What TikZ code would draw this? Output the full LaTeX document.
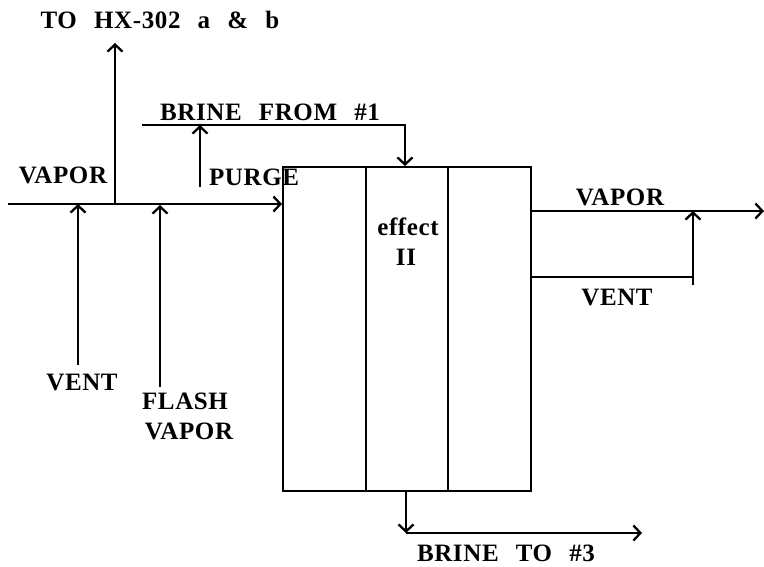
\documentclass[tikz,border=0pt]{standalone}
\usepackage{fontspec}
\setmainfont{Liberation Serif}[LetterSpace=2.5,WordSpace=2.5]
\usetikzlibrary{arrows.meta}
\begin{document}
\begin{tikzpicture}[x=1pt,y=-1pt,
  line/.style={line width=2.3pt},
  arr/.style={line width=2.3pt,-{Straight Barb[length=7pt,width=15pt,line width=2.3pt]}},
  lbl/.style={font=\bfseries\fontsize{25}{28}\selectfont, inner sep=0pt},
]
\useasboundingbox (0,0) rectangle (764,566);
% effect box
\node[draw, line width=2.3pt, minimum width=248pt, minimum height=324pt, inner sep=0pt, anchor=north west] (box) at (282,166) {};
\coordinate (d1t) at (366,166); \coordinate (d1b) at (366,490);
\coordinate (d2t) at (448,166); \coordinate (d2b) at (448,490);
\draw[line] (d1t) -- (d1b);
\draw[line] (d2t) -- (d2b);
\node[lbl] (eff) at (408,227) {effect};
\node[lbl] (two) at (406,257) {II};
% inlet vapor line
\coordinate (in) at (8,204);
\draw[arr] (in) -- (in -| box.west);
% to HX-302
\coordinate (jA) at (115,204);
\coordinate (hx) at (115,43);
\draw[arr] (jA) -- (hx);
\node[lbl] (thx) at (160,20) {TO HX-302 a \& b};
\node[lbl] (vap1) at (63,175) {VAPOR};
% vent
\coordinate (ventS) at (78,365); \coordinate (ventE) at (78,204);
\draw[arr] (ventS) -- (ventE);
\node[lbl] (vent1) at (82,382) {VENT};
% flash vapor
\coordinate (flS) at (160,387); \coordinate (flE) at (160,205);
\draw[arr] (flS) -- (flE);
\node[lbl] (flash) at (185,401) {FLASH};
\node[lbl] (vap2) at (189,431) {VAPOR};
% purge
\coordinate (puS) at (200,187); \coordinate (puE) at (200,125);
\draw[arr] (puS) -- (puE);
\node[lbl] (purge) at (254,177) {PURGE};
% brine from #1
\coordinate (bf0) at (142,125); \coordinate (bf1) at (405,125);
\draw[arr] (bf0) -- (bf1) -- (bf1 |- box.north);
\node[lbl] (bfl) at (270,112) {BRINE FROM \#1};
% vapor out
\coordinate (vo) at (530,211); \coordinate (voE) at (764,211);
\draw[arr] (vo) -- (voE);
\node[lbl] (vap3) at (620,197) {VAPOR};
% vent right
\coordinate (vr0) at (530,277); \coordinate (vr1) at (693,277);
\coordinate (vr2) at (693,285); \coordinate (vr3) at (693,211);
\draw[line] (vr0) -- (vr1);
\draw[arr] (vr2) -- (vr3);
\node[lbl] (vent2) at (617,297) {VENT};
% brine to #3
\coordinate (bt0) at (406,490); \coordinate (bt1) at (406,533); \coordinate (bt2) at (642,533);
\draw[arr] (bt0) -- (bt1);
\draw[arr] (bt1) -- (bt2);
\node[lbl, anchor=base] (bt) at (506,561) {BRINE TO \#3};
\end{tikzpicture}
\end{document}
